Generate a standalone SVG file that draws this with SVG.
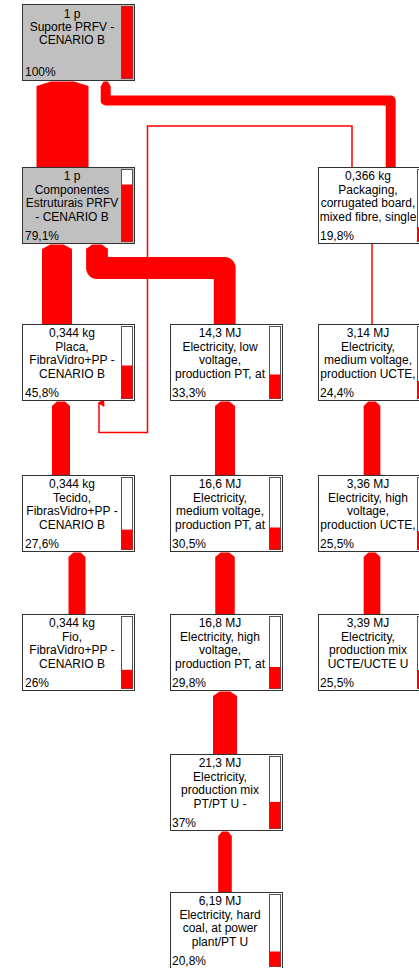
<svg xmlns="http://www.w3.org/2000/svg" width="419" height="968" viewBox="0 0 419 968">
  <style>
    .box { stroke: #333; stroke-width: 1; }
    .prod { fill: #c0c0c0; }
    .proc { fill: #ffffff; }
    .barbg { fill: #ffffff; stroke: #555; stroke-width: 1; }
    .bar { fill: #ff0000; }
    .flow { fill: #ff0000; }
    .route { fill: none; stroke: #ff0000; stroke-linejoin: round; }
    .thin { fill: none; stroke: #ff0000; stroke-width: 1.5; }
    text { font-family: "Liberation Sans", Arial, Helvetica, sans-serif; font-size: 12px; fill: #000; }
    .c { text-anchor: middle; }
  </style>
  <defs>
    <marker id="tip" markerUnits="userSpaceOnUse" markerWidth="8" markerHeight="8" refX="3" refY="1" orient="auto-start-reverse" viewBox="0 0 6 6">
      <path d="M0,5 L3,0 L6,5 Z" fill="#ff0000"/>
    </marker>
  </defs>

  <!-- connectors -->
  <g id="connectors">
    <!-- straight flows with pointed heads -->
    <polygon class="flow" points="36.5,86 51,81.5 74,81.5 88.5,86 88.5,167 36.5,167"/>
    <polygon class="flow" points="42,249 50.4,244.5 63.6,244.5 72,249 72,324 42,324"/>
    <polygon class="flow" points="52,406 57,401.5 65,401.5 70,406 70,475 52,475"/>
    <polygon class="flow" points="68.5,557 73.3,552.5 80.7,552.5 85.5,557 85.5,614 68.5,614"/>
    <polygon class="flow" points="215,406 220.6,401.5 229.4,401.5 235,406 235,475 215,475"/>
    <polygon class="flow" points="215.25,557 220.7,552.5 229.3,552.5 234.75,557 234.75,614 215.25,614"/>
    <polygon class="flow" points="213,696 219.7,691.5 230.3,691.5 237,696 237,754 213,754"/>
    <polygon class="flow" points="218.2,836 222,831.5 228,831.5 231.8,836 231.8,892 218.2,892"/>
    <polygon class="flow" points="363.65,406 368.3,401.5 375.7,401.5 380.35,406 380.35,475 363.65,475"/>
    <polygon class="flow" points="363.65,557 368.3,552.5 375.7,552.5 380.35,557 380.35,614 363.65,614"/>

    <!-- routed flows -->
    <polygon class="flow" points="100.7,86.5 103.5,81.5 107.9,81.5 110.7,86.5"/>
    <path class="route" stroke-width="10" d="M105.7,86 V100.5 H390.7 V167"/>
    <polygon class="flow" points="86.1,249 92.2,244.5 101.8,244.5 107.9,249"/>
    <path class="route" stroke-width="21.8" d="M97,248.5 V268 H224.7 V324"/>

    <!-- thin flows -->
    <path class="thin" marker-end="url(#tip)" d="M352,167 V126 H147.5 V432.5 H99 V403"/>
    <path class="thin" d="M372,324 V244"/>
  </g>

  <!-- nodes -->
  <g id="n-suporte">
    <rect class="box prod" x="22.5" y="4.5" width="112" height="76"/>
    <rect class="barbg" x="121.5" y="6.5" width="11" height="72"/>
    <rect class="bar" x="121.5" y="6.5" width="11" height="72"/>
    <text class="c" x="72" y="17.5">1 p</text>
    <text class="c" x="72" y="30.5">Suporte PRFV -</text>
    <text class="c" x="72" y="43.5">CENARIO B</text>
    <text x="25" y="76">100%</text>
  </g>

  <g id="n-componentes">
    <rect class="box prod" x="22.5" y="167.5" width="112" height="76"/>
    <rect class="barbg" x="121.5" y="169.5" width="11" height="72"/>
    <rect class="bar" x="121.5" y="184.5" width="11" height="57"/>
    <text class="c" x="72" y="180">1 p</text>
    <text class="c" x="72" y="193.5">Componentes</text>
    <text class="c" x="72" y="207">Estruturais PRFV</text>
    <text class="c" x="72" y="220.5">- CENARIO B</text>
    <text x="25" y="239.5">79,1%</text>
  </g>

  <g id="n-packaging">
    <rect class="box proc" x="318.5" y="167.5" width="112" height="76"/>
    <rect class="barbg" x="417.5" y="169.5" width="11" height="72"/>
    <rect class="bar" x="417.5" y="227.2" width="11" height="14.3"/>
    <text class="c" x="368" y="180">0,366 kg</text>
    <text class="c" x="368" y="193.5">Packaging,</text>
    <text class="c" x="368" y="207">corrugated board,</text>
    <text class="c" x="368" y="220.5">mixed fibre, single</text>
    <text x="320" y="239.5">19,8%</text>
  </g>

  <g id="n-placa">
    <rect class="box proc" x="22.5" y="324.5" width="112" height="76"/>
    <rect class="barbg" x="121.5" y="326.5" width="11" height="72"/>
    <rect class="bar" x="121.5" y="365.5" width="11" height="33"/>
    <text class="c" x="72" y="337">0,344 kg</text>
    <text class="c" x="72" y="350.5">Placa,</text>
    <text class="c" x="72" y="364">FibraVidro+PP -</text>
    <text class="c" x="72" y="377.5">CENARIO B</text>
    <text x="25" y="396.5">45,8%</text>
  </g>

  <g id="n-elec-low-pt">
    <rect class="box proc" x="170.5" y="324.5" width="112" height="76"/>
    <rect class="barbg" x="269.5" y="326.5" width="11" height="72"/>
    <rect class="bar" x="269.5" y="374.5" width="11" height="24"/>
    <text class="c" x="220" y="337">14,3 MJ</text>
    <text class="c" x="220" y="350.5">Electricity, low</text>
    <text class="c" x="220" y="364">voltage,</text>
    <text class="c" x="220" y="377.5">production PT, at</text>
    <text x="172" y="396.5">33,3%</text>
  </g>

  <g id="n-elec-medium-ucte">
    <rect class="box proc" x="318.5" y="324.5" width="112" height="76"/>
    <rect class="barbg" x="417.5" y="326.5" width="11" height="72"/>
    <rect class="bar" x="417.5" y="380.9" width="11" height="17.6"/>
    <text class="c" x="368" y="337">3,14 MJ</text>
    <text class="c" x="368" y="350.5">Electricity,</text>
    <text class="c" x="368" y="364">medium voltage,</text>
    <text class="c" x="368" y="377.5">production UCTE,</text>
    <text x="320" y="396.5">24,4%</text>
  </g>

  <g id="n-tecido">
    <rect class="box proc" x="22.5" y="475.5" width="112" height="76"/>
    <rect class="barbg" x="121.5" y="477.5" width="11" height="72"/>
    <rect class="bar" x="121.5" y="529.6" width="11" height="19.9"/>
    <text class="c" x="72" y="488">0,344 kg</text>
    <text class="c" x="72" y="501.5">Tecido,</text>
    <text class="c" x="72" y="515">FibrasVidro+PP -</text>
    <text class="c" x="72" y="528.5">CENARIO B</text>
    <text x="25" y="547.5">27,6%</text>
  </g>

  <g id="n-elec-medium-pt">
    <rect class="box proc" x="170.5" y="475.5" width="112" height="76"/>
    <rect class="barbg" x="269.5" y="477.5" width="11" height="72"/>
    <rect class="bar" x="269.5" y="527.5" width="11" height="22"/>
    <text class="c" x="220" y="488">16,6 MJ</text>
    <text class="c" x="220" y="501.5">Electricity,</text>
    <text class="c" x="220" y="515">medium voltage,</text>
    <text class="c" x="220" y="528.5">production PT, at</text>
    <text x="172" y="547.5">30,5%</text>
  </g>

  <g id="n-elec-high-ucte">
    <rect class="box proc" x="318.5" y="475.5" width="112" height="76"/>
    <rect class="barbg" x="417.5" y="477.5" width="11" height="72"/>
    <rect class="bar" x="417.5" y="531.1" width="11" height="18.4"/>
    <text class="c" x="368" y="488">3,36 MJ</text>
    <text class="c" x="368" y="501.5">Electricity, high</text>
    <text class="c" x="368" y="515">voltage,</text>
    <text class="c" x="368" y="528.5">production UCTE,</text>
    <text x="320" y="547.5">25,5%</text>
  </g>

  <g id="n-fio">
    <rect class="box proc" x="22.5" y="614.5" width="112" height="76"/>
    <rect class="barbg" x="121.5" y="616.5" width="11" height="72"/>
    <rect class="bar" x="121.5" y="669.8" width="11" height="18.7"/>
    <text class="c" x="72" y="627">0,344 kg</text>
    <text class="c" x="72" y="640.5">Fio,</text>
    <text class="c" x="72" y="654">FibraVidro+PP -</text>
    <text class="c" x="72" y="667.5">CENARIO B</text>
    <text x="25" y="686.5">26%</text>
  </g>

  <g id="n-elec-high-pt">
    <rect class="box proc" x="170.5" y="614.5" width="112" height="76"/>
    <rect class="barbg" x="269.5" y="616.5" width="11" height="72"/>
    <rect class="bar" x="269.5" y="667" width="11" height="21.5"/>
    <text class="c" x="220" y="627">16,8 MJ</text>
    <text class="c" x="220" y="640.5">Electricity, high</text>
    <text class="c" x="220" y="654">voltage,</text>
    <text class="c" x="220" y="667.5">production PT, at</text>
    <text x="172" y="686.5">29,8%</text>
  </g>

  <g id="n-elec-mix-ucte">
    <rect class="box proc" x="318.5" y="614.5" width="112" height="76"/>
    <rect class="barbg" x="417.5" y="616.5" width="11" height="72"/>
    <rect class="bar" x="417.5" y="670.1" width="11" height="18.4"/>
    <text class="c" x="368" y="627">3,39 MJ</text>
    <text class="c" x="368" y="640.5">Electricity,</text>
    <text class="c" x="368" y="654">production mix</text>
    <text class="c" x="368" y="667.5">UCTE/UCTE U</text>
    <text x="320" y="686.5">25,5%</text>
  </g>

  <g id="n-elec-mix-pt">
    <rect class="box proc" x="170.5" y="754.5" width="112" height="76"/>
    <rect class="barbg" x="269.5" y="756.5" width="11" height="72"/>
    <rect class="bar" x="269.5" y="801.9" width="11" height="26.6"/>
    <text class="c" x="220" y="767">21,3 MJ</text>
    <text class="c" x="220" y="780.5">Electricity,</text>
    <text class="c" x="220" y="794">production mix</text>
    <text class="c" x="220" y="807.5">PT/PT U -</text>
    <text x="172" y="826.5">37%</text>
  </g>

  <g id="n-elec-coal-pt">
    <rect class="box proc" x="170.5" y="892.5" width="112" height="76"/>
    <rect class="barbg" x="269.5" y="894.5" width="11" height="72"/>
    <rect class="bar" x="269.5" y="951.5" width="11" height="15"/>
    <text class="c" x="220" y="905">6,19 MJ</text>
    <text class="c" x="220" y="918.5">Electricity, hard</text>
    <text class="c" x="220" y="932">coal, at power</text>
    <text class="c" x="220" y="945.5">plant/PT U</text>
    <text x="172" y="964.5">20,8%</text>
  </g>
</svg>
